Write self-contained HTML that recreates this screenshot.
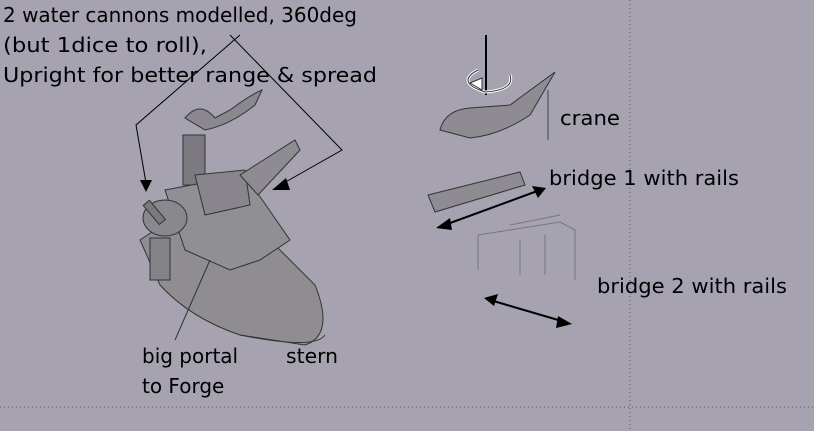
<!DOCTYPE html>
<html><head><style>
body{margin:0;background:#a6a2b0;}
svg{display:block}
text{font-family:"DejaVu Sans","Liberation Sans",sans-serif;font-size:20px;fill:#000}
</style></head><body>
<svg width="814" height="431" viewBox="0 0 814 431">
<rect width="814" height="431" fill="#a6a2b0"/>
<line x1="630" y1="0" x2="630" y2="431" stroke="#555" stroke-dasharray="1,3"/>
<line x1="0" y1="407" x2="814" y2="407" stroke="#555" stroke-dasharray="1,3"/>
<text x="3" y="22" textLength="354" lengthAdjust="spacingAndGlyphs">2 water cannons modelled, 360deg</text>
<text x="3" y="52" textLength="204" lengthAdjust="spacingAndGlyphs">(but 1dice to roll),</text>
<text x="3" y="82" textLength="374" lengthAdjust="spacingAndGlyphs">Upright for better range &amp; spread</text>
<polyline points="240,35 136,125 146,183" fill="none" stroke="#000"/>
<polygon points="140,180 152,180 146,192" fill="#000"/>
<polyline points="230,35 342,150 282,184" fill="none" stroke="#000"/>
<polygon points="272,190 286,178 290,190" fill="#000"/>
<g stroke="#333" stroke-width="1" fill="#8c8a90">
<path d="M140,240 L185,210 L275,245 L315,285 Q335,335 305,345 L240,335 Q190,318 160,285 Z" fill="#8f8d92"/>
<path d="M240,335 Q315,350 325,335" fill="none"/>
<rect x="183" y="135" width="22" height="50" fill="#7c7a80"/>
<path d="M185,118 Q200,100 215,118 L230,110 Q250,95 262,90 L255,105 Q230,125 205,130 Z" fill="#8a888e"/>
<polygon points="165,190 245,175 290,240 260,260 230,270 185,250" fill="#909094"/>
<polygon points="195,175 245,170 250,205 205,215" fill="#88868c"/>
<polygon points="240,175 295,140 300,150 258,195" fill="#8e8c92"/>
<ellipse cx="165" cy="218" rx="22" ry="18" fill="#8a888e"/>
<rect x="150" y="200" width="8" height="25" fill="#7a787e" transform="rotate(-40 154 212)"/>
<rect x="150" y="238" width="20" height="42" fill="#858389"/>
</g>
<line x1="210" y1="260" x2="175" y2="340" stroke="#333"/>
<text x="142" y="363">big portal</text>
<text x="142" y="393">to Forge</text>
<text x="286" y="363" textLength="52" lengthAdjust="spacingAndGlyphs">stern</text>
<line x1="486" y1="35" x2="486" y2="95" stroke="#000" stroke-width="2"/>
<path d="M478,70 Q455,82 485,92 Q515,90 510,75" fill="none" stroke="#fff" stroke-width="3"/>
<path d="M478,70 Q455,82 485,92 Q515,90 510,75" fill="none" stroke="#333" stroke-width="1"/>
<polygon points="470,83 482,78 482,90" fill="#fff" stroke="#333"/>
<path d="M440,130 Q445,110 470,108 L510,105 L555,72 L530,115 Q500,135 470,138 Z" fill="#8e8c92" stroke="#333"/>
<line x1="548" y1="90" x2="548" y2="140" stroke="#444"/>
<text x="560" y="125" textLength="60" lengthAdjust="spacingAndGlyphs">crane</text>
<polygon points="428,195 520,172 525,185 435,212" fill="#8e8c92" stroke="#333"/>
<text x="549" y="185" textLength="190" lengthAdjust="spacingAndGlyphs">bridge 1 with rails</text>
<line x1="442" y1="226" x2="540" y2="190" stroke="#000" stroke-width="2"/>
<polygon points="436,228 450,218 452,230" fill="#000"/>
<polygon points="546,188 532,186 538,198" fill="#000"/>
<g stroke="#777" fill="none">
<polyline points="478,235 560,222 575,230 575,280"/>
<polyline points="478,235 478,270"/>
<polyline points="510,225 560,215"/>
<line x1="520" y1="240" x2="520" y2="275"/>
<line x1="545" y1="235" x2="545" y2="275"/>
</g>
<text x="597" y="293" textLength="190" lengthAdjust="spacingAndGlyphs">bridge 2 with rails</text>
<line x1="490" y1="300" x2="565" y2="322" stroke="#000" stroke-width="2"/>
<polygon points="484,298 498,294 494,306" fill="#000"/>
<polygon points="572,324 558,316 556,328" fill="#000"/>
</svg>
</body></html>
